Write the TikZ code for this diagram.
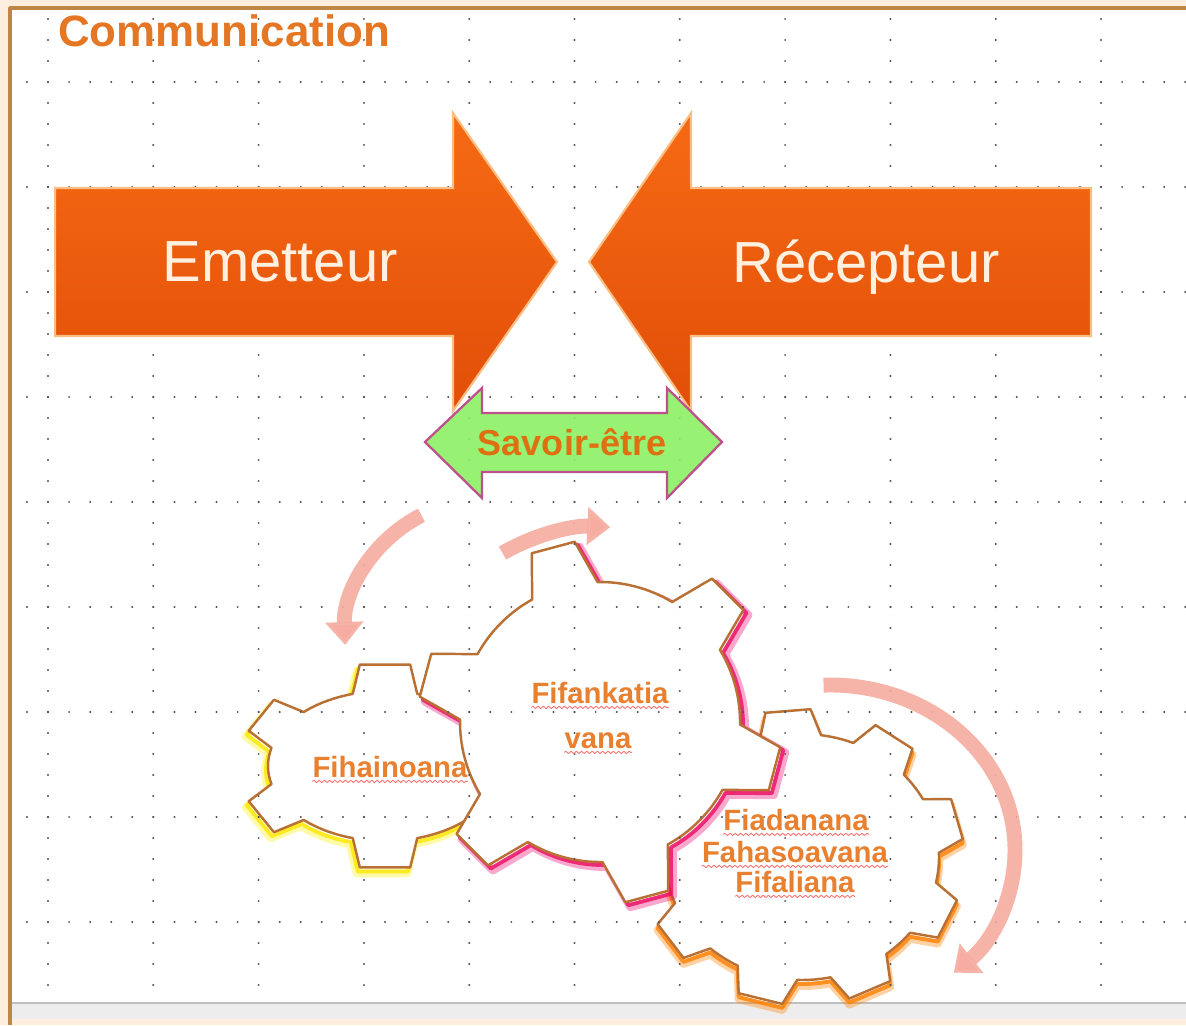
\documentclass[tikz,border=0pt]{standalone}
\usepackage{fontspec}
\setmainfont{Liberation Sans}
\usetikzlibrary{positioning, arrows.meta, decorations.pathmorphing}

\definecolor{slide}{RGB}{253,238,222}
\definecolor{frameline}{RGB}{190,135,70}
\definecolor{dotgrey}{RGB}{80,80,80}
\definecolor{arrowtop}{RGB}{246,106,20}
\definecolor{arrowbot}{RGB}{226,78,8}
\definecolor{arrowedge}{RGB}{252,190,130}
\definecolor{leaf}{RGB}{140,240,100}
\definecolor{leafedge}{RGB}{190,80,140}
\definecolor{titleorange}{RGB}{228,118,36}
\definecolor{savoirword}{RGB}{222,112,18}
\definecolor{gearline}{RGB}{185,112,52}
\definecolor{gearword}{RGB}{232,128,48}
\definecolor{salmon}{RGB}{246,172,160}

% teeth, first tooth angle, outer rx, outer ry, inner rx, inner ry, tip half angle, base half angle
\newcommand{\gearpath}[8]{%
  (#2-#8:#5 and #6)
  \foreach \k [evaluate=\k as \ph using #2+(\k-1)*360/#1] in {1,...,#1}{
    -- (\ph-#8:#5 and #6) -- (\ph-#7:#3 and #4) -- (\ph+#7:#3 and #4) -- (\ph+#8:#5 and #6)
    arc[start angle=\ph+#8, end angle=\ph+360/#1-#8, x radius=#5, y radius=#6]
  } -- cycle}

\begin{document}
\begin{tikzpicture}[x=0.02cm, y=0.02cm, line join=round,
    bigarrow/.style={top color=arrowtop, bottom color=arrowbot, draw=arrowedge, line width=1.2pt, line join=miter},
    bigword/.style={anchor=base, text=white!88!orange, font=\fontsize{33}{40}\selectfont},
    savoir/.style={fill=leaf, fill opacity=0.9, draw=leafedge, line width=1.3pt, line join=miter},
    gear/.style={fill=white, draw=gearline, line width=1.4pt},
    glow/.style={draw=#1, line width=4.5pt, opacity=0.35},
    core/.style={draw=#1, line width=2.2pt, opacity=0.8},
    gearword/.style={anchor=base, inner sep=0pt, text=gearword, font=\bfseries\fontsize{16.7}{20}\selectfont},
    squiggle/.style={draw=red!55!white, line width=0.5pt, decorate, decoration={snake, amplitude=0.7pt, segment length=3pt}},
    turn/.style={draw=salmon, draw opacity=0.9, line width=8.5pt, -{Triangle[width=21pt, length=13pt]}}]
  \useasboundingbox (0,0) rectangle (1186,1025);

  % slide
  \fill[slide] (0,0) rectangle (1186,1025);
  \fill[white] (10,22) rectangle (1186,1017);
  \fill[black!7] (10,6) rectangle (1186,22);
  \draw[black!25, line width=0.8pt] (10,22) -- (1186,22);
  \draw[frameline, line width=2pt] (10,0) -- (10,1017) -- (1186,1017);

  % gears
  \coordinate (g1) at (385,259);
  \coordinate (g2) at (600,303);
  \coordinate (g3) at (802,168);
  \draw[glow=orange, shift={(g3)}, shift={(0,-6)}] \gearpath{9}{95}{162}{148}{137}{123}{8}{13};
  \draw[core=orange, shift={(g3)}, shift={(0,-4)}] \gearpath{9}{95}{162}{148}{137}{123}{8}{13};
  \draw[gear, shift={(g3)}] \gearpath{9}{95}{162}{148}{137}{123}{8}{13};
  \draw[glow=yellow, shift={(g1)}, shift={(-3,-6)}] \gearpath{6}{90}{145}{103}{117}{75}{10}{16};
  \draw[core=yellow!90!orange, shift={(g1)}, shift={(-2,-4)}] \gearpath{6}{90}{145}{103}{117}{75}{10}{16};
  \draw[gear, shift={(g1)}] \gearpath{6}{90}{145}{103}{117}{75}{10}{16};
  \draw[glow=magenta!70!red, shift={(g2)}, shift={(5,-5)}] \gearpath{6}{105}{182}{182}{140}{140}{7}{14};
  \draw[core=magenta!60!red, shift={(g2)}, shift={(3,-3)}] \gearpath{6}{105}{182}{182}{140}{140}{7}{14};
  \draw[gear, shift={(g2)}] \gearpath{6}{105}{182}{182}{140}{140}{7}{14};

  % grid
  \foreach \i in {0,...,10}
    \foreach \k in {0,...,46}
      \fill[dotgrey] (48+105.3*\i, 1006-21*\k) circle (1.1);
  \foreach \j in {0,...,8}
    \foreach \k in {0,...,55}
      \fill[dotgrey] (27+21.06*\k, 943-105*\j) circle (1.1);

  \node[anchor=base west, text=titleorange, font=\bfseries\fontsize{25}{30}\selectfont] (title) at (52,978) {Communication};

  % emetteur / recepteur
  \draw[bigarrow] (55,837) -- (453,837) -- (453,912) -- (557,763) -- (453,614) -- (453,689) -- (55,689) -- cycle;
  \draw[bigarrow] (1091,837) -- (691,837) -- (691,912) -- (589,763) -- (691,614) -- (691,689) -- (1091,689) -- cycle;
  \node[bigword] (emetteur) at (280,743) {Emetteur};
  \node[bigword] (recepteur) at (866,742) {Récepteur};

  \draw[savoir] (425,583) -- (482,637) -- (482,612) -- (667,612) -- (667,637) -- (722,583)
    -- (667,527) -- (667,553) -- (482,553) -- (482,527) -- cycle;
  \node[anchor=base, text=savoirword, font=\bfseries\fontsize{20.5}{24}\selectfont] (savoir) at (572,569) {Savoir-être};

  % turning arrows
  \coordinate (t1) at (485,385);
  \coordinate (t2) at (600,303);
  \coordinate (t3) at (830,175);
  \draw[turn] (t1) ++(117:140) arc[start angle=117, end angle=182, radius=140];
  \draw[turn] (t2) ++(120:195) arc[start angle=120, end angle=87, radius=195];
  \draw[turn] (t3) ++(92:185 and 165) arc[start angle=92, end angle=-48, x radius=185, y radius=165];

  % gear words
  \node[gearword] (fiha) at (390,248) {Fihainoana};
  \node[gearword] (fifa) at (600,322) {Fifankatia};
  \node[gearword] (vana) at (598,277) {vana};
  \node[gearword] (fiad) at (796,195) {Fiadanana};
  \node[gearword] (faha) at (795,163) {Fahasoavana};
  \node[gearword] (fifal) at (795,133) {Fifaliana};
  \foreach \w in {fiha, fifa, vana, fiad, faha, fifal}
    \draw[squiggle] ([yshift=-2.5pt]\w.base west) -- ([yshift=-2.5pt]\w.base east);
\end{tikzpicture}
\end{document}
